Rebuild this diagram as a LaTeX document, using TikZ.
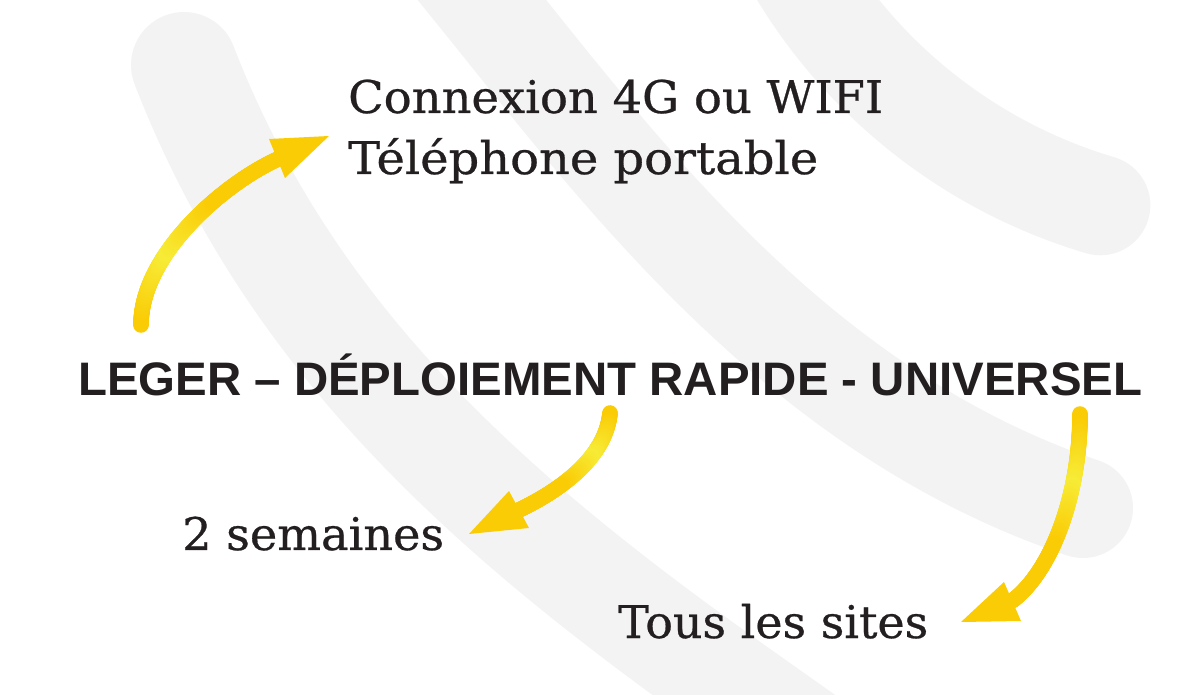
\documentclass[tikz,border=0pt]{standalone}
\usepackage{fontspec}
\usepackage{graphicx}
\setmainfont{DejaVu Serif}[FakeBold=0.6]
\newfontfamily\mainsans{Liberation Sans}
\usetikzlibrary{decorations.markings}
\definecolor{band}{RGB}{243,243,243}
\definecolor{ygold}{RGB}{250,204,6}
\definecolor{ylight}{RGB}{247,236,55}
\definecolor{ink}{RGB}{35,31,32}
\newcommand\fitw[2]{\resizebox{#1}{\height}{#2}}
\begin{document}
\begin{tikzpicture}[x=1pt,y=1pt,
  bandline/.style={draw=band, line width=100pt, line cap=round},
  lbl/.style={inner sep=0pt, anchor=base west, text=ink, font=\fontsize{45}{54}\selectfont},
  mainlbl/.style={inner sep=0pt, anchor=base west, text=ink, font=\mainsans\bfseries\fontsize{47}{56}\selectfont},
  shaft/.style={postaction={decorate}, decoration={markings,
    mark=between positions 0 and 1 step 0.8pt with {%
      \pgfmathsetmacro\myfr{\pgfkeysvalueof{/pgf/decoration/mark info/distance from start}/\pgfdecoratedpathlength}%
      \pgfmathtruncatemacro\mypc{max(0,100-abs(\myfr-0.35)*330)}%
      \fill[ylight!\mypc!ygold] (0,0) circle (7.8pt);%
    }}},
  head/.style={fill=ygold, draw=none}
]
\useasboundingbox (0,0) rectangle (1200,694);
\fill[white] (0,0) rectangle (1200,694);
\clip (0,0) rectangle (1200,694);

% background wifi bands
\coordinate (O) at (1250,994);
\draw[bandline] (O) ++(200:527) arc[start angle=200, end angle=253.5, radius=527];
\draw[bandline] (419,772) -- (482,694) .. controls (620.6,522.4) and (798,282) .. (1083,186);
\draw[bandline, line width=106pt] (184,629) .. controls (292,350) and (496,174) .. (742,0) -- (824,-58);

% texts
\node[lbl] (con) at (348,581) {\fitw{535pt}{Connexion 4G ou WIFI}};
\node[lbl] (tel) at (348,520) {\fitw{470pt}{Téléphone portable}};
\node[mainlbl] (main) at (78,298) {\fitw{1064pt}{LEGER – DÉPLOIEMENT RAPIDE - UNIVERSEL}};
\node[lbl] (sem) at (182,144) {\fitw{262pt}{2 semaines}};
\node[lbl] (tous) at (618,56) {\fitw{310pt}{Tous les sites}};

% arrow 1 : main -> con/tel
\coordinate (a1s) at (141,369);
\coordinate (a1e) at (278,535);
\coordinate (a1t) at (329,558);
\coordinate (a1l) at (269,555);
\coordinate (a1r) at (285,516);
\path[shaft] (a1s) .. controls +(0,70) and +(-55,-25) .. (a1e);
\fill[head] (a1t) -- (a1l) -- (a1r) -- cycle;

% arrow 2 : main -> sem
\coordinate (a2s) at (610,281);
\coordinate (a2e) at (519,184);
\coordinate (a2t) at (469,160);
\coordinate (a2l) at (509,203);
\coordinate (a2r) at (529,166);
\path[shaft] (a2s) .. controls +(-4,-42) and +(46,22) .. (a2e);
\fill[head] (a2t) -- (a2l) -- (a2r) -- cycle;

% arrow 3 : main -> tous
\coordinate (a3s) at (1080,280);
\coordinate (a3e) at (1012,93);
\coordinate (a3t) at (961,72);
\coordinate (a3l) at (1004,112);
\coordinate (a3r) at (1021,73);
\path[shaft] (a3s) .. controls +(0,-80) and +(40,30) .. (a3e);
\fill[head] (a3t) -- (a3l) -- (a3r) -- cycle;
\end{tikzpicture}
\end{document}
